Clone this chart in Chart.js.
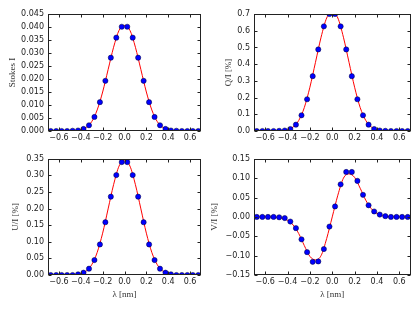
<!DOCTYPE html>
<html>
<head>
<meta charset="utf-8">
<script src="https://cdn.jsdelivr.net/npm/chart.js@4/dist/chart.umd.min.js"></script>
<style>
  html, body { margin: 0; padding: 0; background: #fff; }
  #fig { position: relative; width: 415px; height: 312px; overflow: hidden; }
  #fig canvas { position: absolute; }
</style>
</head>
<body>
<div id="fig">
  <canvas id="c-i" width="207" height="150" style="left:0;top:0"></canvas>
  <canvas id="c-q" width="208" height="150" style="left:207px;top:0"></canvas>
  <canvas id="c-u" width="207" height="162" style="left:0;top:150px"></canvas>
  <canvas id="c-v" width="208" height="162" style="left:207px;top:150px"></canvas>
</div>
<script>
// wavelength of the observed samples and of the fitted model [nm]
const xObs = [-0.675, -0.625, -0.575, -0.525, -0.475, -0.425, -0.375, -0.325, -0.275, -0.225,
              -0.175, -0.125, -0.075, -0.025, 0.025, 0.075, 0.125, 0.175, 0.225, 0.275,
              0.325, 0.375, 0.425, 0.475, 0.525, 0.575, 0.625, 0.675];
const xFit = [-0.7, -0.65, -0.6, -0.55, -0.5, -0.45, -0.4, -0.35, -0.3, -0.25, -0.2, -0.15, -0.1, -0.05,
              0, 0.05, 0.1, 0.15, 0.2, 0.25, 0.3, 0.35, 0.4, 0.45, 0.5, 0.55, 0.6, 0.65, 0.7];

// Stokes I
const iObs = [0, 0, 0, 0, 0.0001, 0.0002, 0.0008, 0.0022, 0.0054, 0.0111, 0.0193, 0.0282, 0.0359, 0.0401,
              0.0401, 0.0359, 0.0282, 0.0193, 0.0111, 0.0054, 0.0022, 0.0008, 0.0002, 0.0001, 0, 0, 0, 0];
const iFit = [0, 0, 0, 0, 0, 0.0001, 0.0005, 0.0014, 0.0036, 0.0081, 0.0150, 0.0236, 0.0322, 0.0387,
              0.0406, 0.0387, 0.0322, 0.0236, 0.0150, 0.0081, 0.0036, 0.0014, 0.0005, 0.0001, 0, 0, 0, 0, 0];
// Q/I [%]
const qObs = [0, 0, 0, 0, 0.001, 0.003, 0.012, 0.038, 0.094, 0.190, 0.328, 0.488, 0.626, 0.700,
              0.700, 0.626, 0.488, 0.328, 0.190, 0.094, 0.038, 0.012, 0.003, 0.001, 0, 0, 0, 0];
const qFit = [0, 0, 0, 0, 0, 0.002, 0.008, 0.024, 0.063, 0.140, 0.262, 0.411, 0.561, 0.676,
              0.712, 0.676, 0.561, 0.411, 0.262, 0.140, 0.063, 0.024, 0.008, 0.002, 0, 0, 0, 0, 0];
// U/I [%]
const uObs = [0, 0, 0, 0, 0, 0.002, 0.007, 0.019, 0.045, 0.092, 0.159, 0.236, 0.301, 0.340,
              0.340, 0.301, 0.236, 0.159, 0.092, 0.045, 0.019, 0.007, 0.002, 0, 0, 0, 0, 0];
const uFit = [0, 0, 0, 0, 0, 0.001, 0.004, 0.012, 0.031, 0.068, 0.126, 0.199, 0.272, 0.328,
              0.346, 0.328, 0.272, 0.199, 0.126, 0.068, 0.031, 0.012, 0.004, 0.001, 0, 0, 0, 0, 0];
// V/I [%]
const vObs = [0, 0, 0, 0, -0.001, -0.003, -0.012, -0.029, -0.058, -0.091, -0.116, -0.115, -0.083, -0.025,
              0.027, 0.084, 0.116, 0.116, 0.093, 0.057, 0.030, 0.014, 0.006, 0.002, 0, 0, 0, 0];
const vFit = [0, 0, 0, 0, -0.001, -0.003, -0.009, -0.021, -0.043, -0.074, -0.102, -0.111, -0.100, -0.056,
              0, 0.056, 0.100, 0.111, 0.102, 0.074, 0.043, 0.021, 0.009, 0.003, 0.001, 0, 0, 0, 0];

// tick labels
const xTicks = [-0.6, -0.4, -0.2, 0.0, 0.2, 0.4, 0.6];
const iTicks = [0, 0.005, 0.010, 0.015, 0.020, 0.025, 0.030, 0.035, 0.040, 0.045];
const qTicks = [0, 0.1, 0.2, 0.3, 0.4, 0.5, 0.6, 0.7];
const uTicks = [0, 0.05, 0.10, 0.15, 0.20, 0.25, 0.30, 0.35];
const vTicks = [-0.15, -0.10, -0.05, 0, 0.05, 0.10, 0.15];

const fmt = (v, d) => {
    const s = Math.abs(v).toFixed(d);
    return (v < -1e-9 ? '\u2212' : '') + s;
};

// frame box + inward ticks on all four sides, like matplotlib classic
const framePlugin = {
    id: 'frame',
    afterDatasetsDraw(chart) {
        const { ctx, chartArea: a, scales } = chart;
        const L = Math.round(a.left) + 0.5, R = Math.round(a.right) - 0.5;
        const T = Math.round(a.top) + 0.5, B = Math.round(a.bottom) - 0.5;
        ctx.save();
        ctx.strokeStyle = '#222';
        ctx.lineWidth = 1;
        ctx.beginPath();
        scales.x.ticks.forEach(t => {
            const px = Math.round(scales.x.getPixelForValue(t.value)) + 0.5;
            ctx.moveTo(px, B); ctx.lineTo(px, B - 3);
            ctx.moveTo(px, T); ctx.lineTo(px, T + 3);
        });
        scales.y.ticks.forEach(t => {
            const py = Math.round(scales.y.getPixelForValue(t.value)) + 0.5;
            ctx.moveTo(L, py); ctx.lineTo(L + 3, py);
            ctx.moveTo(R, py); ctx.lineTo(R - 3, py);
        });
        ctx.stroke();
        ctx.strokeRect(L, T, R - L, B - T);
        ctx.restore();
    }
};

function makePanel(id, opts) {
    const ctx = document.getElementById(id).getContext('2d');
    return new Chart(ctx, {
        type: 'scatter',
        data: {
            datasets: [{
                type: 'line',
                data: xFit.map((x, i) => ({ x: x, y: opts.fit[i] })),
                borderColor: '#ff0000',
                borderWidth: 1,
                pointRadius: 0,
                fill: false,
                cubicInterpolationMode: 'monotone',
                clip: 0,
                order: 1
            }, {
                data: xObs.map((x, i) => ({ x: x, y: opts.obs[i] })),
                backgroundColor: '#0000ff',
                borderColor: '#000033',
                borderWidth: 0.5,
                pointRadius: 2.6,
                clip: 0,
                order: 0
            }]
        },
        options: {
            responsive: false,
            devicePixelRatio: 1,
            animation: false,
            layout: { padding: { left: 0, top: opts.padTop, right: opts.padRight, bottom: 0 } },
            plugins: { legend: { display: false }, tooltip: { enabled: false } },
            scales: {
                x: {
                    type: 'linear',
                    min: -0.7,
                    max: 0.7,
                    afterBuildTicks: s => { s.ticks = xTicks.map(v => ({ value: v })); },
                    afterFit: s => { s.height = opts.xH; },
                    grid: { display: false, drawTicks: false },
                    border: { display: false },
                    ticks: {
                        padding: 2,
                        maxRotation: 0,
                        autoSkip: false,
                        color: '#222',
                        font: { family: 'DejaVu Sans', size: 8 },
                        callback: v => fmt(v, 1)
                    },
                    title: {
                        display: opts.showX,
                        text: '\u03bb [nm]',
                        color: '#333',
                        font: { family: 'Liberation Serif', size: 9 },
                        padding: { top: 0, bottom: 11.6 }
                    }
                },
                y: {
                    type: 'linear',
                    min: opts.yMin,
                    max: opts.yMax,
                    afterBuildTicks: s => { s.ticks = opts.ticks.map(v => ({ value: v })); },
                    afterFit: s => { s.width = opts.yW; },
                    grid: { display: false, drawTicks: false },
                    border: { display: false },
                    ticks: {
                        padding: 4,
                        autoSkip: false,
                        color: '#222',
                        font: { family: 'DejaVu Sans', size: 8 },
                        callback: v => fmt(v, opts.dec)
                    },
                    title: {
                        display: true,
                        text: opts.label,
                        color: '#333',
                        font: { family: 'Liberation Serif', size: 9 },
                        padding: { top: opts.titlePad, bottom: 0 }
                    }
                }
            }
        },
        plugins: [framePlugin]
    });
}

makePanel('c-i', { obs: iObs, fit: iFit, ticks: iTicks, yMin: 0, yMax: 0.045, dec: 3,
    label: 'Stokes I', yW: 48, padTop: 14, padRight: 6, xH: 19, titlePad: 7.3, showX: false });
makePanel('c-q', { obs: qObs, fit: qFit, ticks: qTicks, yMin: 0, yMax: 0.7, dec: 1,
    label: 'Q/I [%]', yW: 47, padTop: 14, padRight: 2, xH: 19, titlePad: 15.9, showX: false });
makePanel('c-u', { obs: uObs, fit: uFit, ticks: uTicks, yMin: 0, yMax: 0.35, dec: 2,
    label: 'U/I [%]', yW: 48, padTop: 8, padRight: 6, xH: 37, titlePad: 10.6, showX: true });
makePanel('c-v', { obs: vObs, fit: vFit, ticks: vTicks, yMin: -0.15, yMax: 0.15, dec: 2,
    label: 'V/I [%]', yW: 47, padTop: 8, padRight: 2, xH: 37, titlePad: 2.6, showX: true });
</script>
</body>
</html>
